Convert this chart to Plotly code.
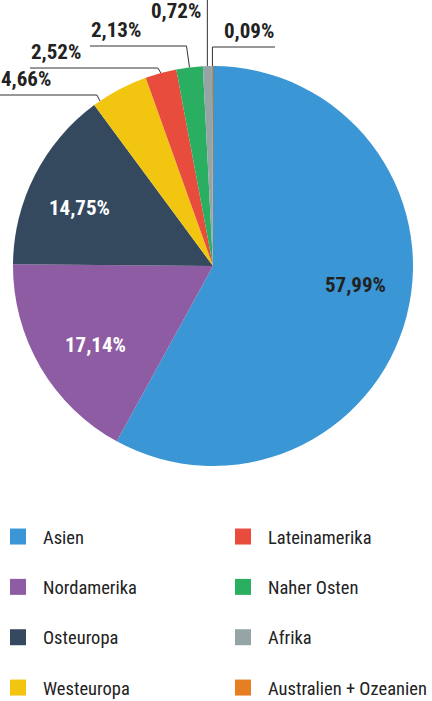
import numpy as np
import plotly.graph_objects as go

# ---- data ----
regions = ["Asien", "Nordamerika", "Osteuropa", "Westeuropa",
           "Lateinamerika", "Naher Osten", "Afrika", "Australien + Ozeanien"]
shares = [57.99, 17.14, 14.75, 4.66, 2.52, 2.13, 0.72, 0.09]
colors = ["#3a96d5", "#8e5ca2", "#35495e", "#f2c511",
          "#e74c3c", "#2aae62", "#95a5a6", "#e67f22"]

W, H = 432, 701
FONT = "Roboto Condensed, Open Sans Condensed, sans-serif"

# pie placement (pixels)
CX, CY, R = 213, 266, 200


def px(x):
    return x / W


def py(y):
    return 1 - y / H


def fmt(v):
    return f"{v:.2f}".replace(".", ",") + "%"


fig = go.Figure()
fig.add_trace(go.Pie(
    labels=regions, values=shares, sort=False, direction="clockwise",
    rotation=0, marker=dict(colors=colors, line=dict(width=0)),
    textinfo="none",
    domain=dict(x=[px(CX - R), px(CX + R)], y=[py(CY + R), py(CY - R)]),
    showlegend=False, hoverinfo="label+percent",
))

vals = np.array(shares)
cum = np.concatenate([[0], np.cumsum(vals)]) / vals.sum() * 360.0
shapes, annots = [], []

# ---- inside labels for the three large slices ----
inside_colors = ["#222222", "#ffffff", "#ffffff"]
for i, col in enumerate(inside_colors):
    ang = np.deg2rad(0.5 * (cum[i] + cum[i + 1]) - 5)
    x = CX + 0.72 * R * np.sin(ang)
    y = CY - 0.72 * R * np.cos(ang)
    annots.append(dict(x=px(x), y=py(y - 4), xanchor="center", yanchor="middle",
                       text=fmt(shares[i]), font_color=col))

# ---- leader lines + outside labels for small slices ----
small = {
    3: dict(frac=0.12, elbow_y=95, end_x=0, side="left"),
    4: dict(frac=0.5, elbow_y=68, end_x=30, side="left"),
    5: dict(frac=0.5, elbow_y=46, end_x=90, side="left"),
    6: dict(frac=0.5, elbow_y=0, end_x=None, side="top"),
    7: dict(frac=0.5, elbow_y=47, end_x=275, side="right"),
}
for i, st in small.items():
    ang = np.deg2rad(cum[i] + st["frac"] * (cum[i + 1] - cum[i]))
    x0 = CX + R * np.sin(ang)
    y0 = CY - R * np.cos(ang)
    label = fmt(shares[i])
    if st["side"] == "top":
        path = f"M{px(x0)},{py(y0)} L{px(x0)},{py(0)}"
        annots.append(dict(x=px(x0 - 5), y=py(-2), xanchor="right", yanchor="top",
                           text=label, font_color="#222222"))
    else:
        ex = x0 - 3 if st["side"] == "left" else x0
        path = (f"M{px(x0)},{py(y0)} L{px(ex)},{py(st['elbow_y'])} "
                f"L{px(st['end_x'])},{py(st['elbow_y'])}")
        lx = st["end_x"] if st["side"] == "left" else x0 + 11
        annots.append(dict(x=px(lx), y=py(st["elbow_y"] - 3),
                           xanchor="left", yanchor="bottom", text=label,
                           font_color="#222222"))
    shapes.append(dict(type="path", xref="paper", yref="paper", path=path,
                       line=dict(color="#333333", width=1)))

for a in annots:
    col = a.pop("font_color")
    a.update(xref="paper", yref="paper", showarrow=False, borderpad=0,
             font=dict(family=FONT, size=21, color=col, weight="bold"))

# ---- legend (two columns) ----
for i, (name, c) in enumerate(zip(regions, colors)):
    fig.add_trace(go.Scatter(
        x=[None], y=[None], mode="markers", name=name,
        marker=dict(symbol="square", size=16, color=c),
        legend="legend" if i < 4 else "legend2",
        legendgroup=name, hoverinfo="skip",
    ))

leg_common = dict(
    orientation="v", traceorder="grouped", tracegroupgap=23.3,
    itemwidth=40, itemsizing="trace", bgcolor="rgba(0,0,0,0)",
    font=dict(family=FONT, size=18.5, color="#222222"),
    yanchor="top", y=py(518), xanchor="left",
)

fig.update_layout(
    width=W, height=H, margin=dict(l=0, r=0, t=0, b=0, autoexpand=False),
    paper_bgcolor="white", plot_bgcolor="white",
    separators=",.",
    xaxis=dict(visible=False), yaxis=dict(visible=False),
    shapes=shapes, annotations=annots,
    legend=dict(**leg_common, x=px(-7)),
    legend2=dict(**leg_common, x=px(218)),
)

fig.write_html("out.html", config={"displayModeBar": False},
               post_script="document.body.style.margin='0';"
                           "document.body.style.padding='0';")
